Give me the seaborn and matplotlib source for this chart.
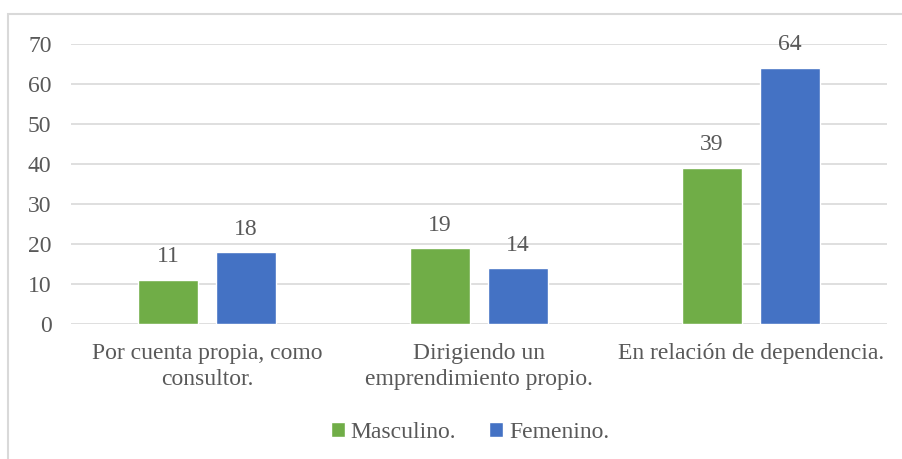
import matplotlib
matplotlib.use("Agg")
import matplotlib.pyplot as plt
import seaborn as sns
import pandas as pd
from matplotlib.patches import Rectangle

categories = ["Por cuenta propia, como\nconsultor.",
              "Dirigiendo un\nemprendimiento propio.",
              "En relación de dependencia."]
series_names = ["Masculino.", "Femenino."]
masculino = [11, 19, 39]
femenino = [18, 14, 64]
yticks = [0, 10, 20, 30, 40, 50, 60, 70]

colors = ["#70AD47", "#4472C4"]
text_color = "#595959"
fs = 17

sns.set_theme(style="white")
plt.rcParams["font.family"] = ["Liberation Serif", "DejaVu Serif"]

df = pd.DataFrame({
    "cat": categories * 2,
    "serie": [series_names[0]] * 3 + [series_names[1]] * 3,
    "val": masculino + femenino,
})

fig = plt.figure(figsize=(9.03, 4.59), dpi=100)
ax = fig.add_axes([71 / 903, 1 - 324 / 459, (887 - 71) / 903, (324 - 44) / 459])

sns.barplot(data=df, x="cat", y="val", hue="serie", order=categories,
            hue_order=series_names, palette=colors, width=0.574, gap=0.22,
            saturation=1, ax=ax, errorbar=None)

for c in ax.containers:
    ax.bar_label(c, padding=9, fontsize=fs, color=text_color)

ax.set_xlim(-0.5, 2.5)
ax.set_ylim(0, 70)
ax.set_yticks(yticks)
ax.set_yticklabels([str(v) for v in yticks])
ax.yaxis.grid(True, color="#D9D9D9", linewidth=1.2)
ax.set_axisbelow(True)
for s in ["left", "right", "top", "bottom"]:
    ax.spines[s].set_visible(False)
ax.tick_params(axis="both", length=0, labelsize=fs, labelcolor=text_color)
ax.tick_params(axis="y", pad=14)
ax.tick_params(axis="x", pad=14)
for t in ax.get_xticklabels():
    t.set_linespacing(1.3)
ax.set_xlabel("")
ax.set_ylabel("")

leg = ax.legend(loc="center", bbox_to_anchor=(470 / 903, 1 - 432 / 459),
                bbox_transform=fig.transFigure, ncol=2, frameon=False,
                fontsize=fs, handlelength=0.6, handleheight=0.6,
                handletextpad=0.25, columnspacing=1.4)
for t in leg.get_texts():
    t.set_color(text_color)

fig.patches.append(Rectangle((8 / 903, -0.1), 1.2, 1 - 14 / 459 + 0.1,
                             transform=fig.transFigure, fill=False,
                             edgecolor="#D9D9D9", linewidth=1.5))

fig.savefig("out.png", dpi=100)
